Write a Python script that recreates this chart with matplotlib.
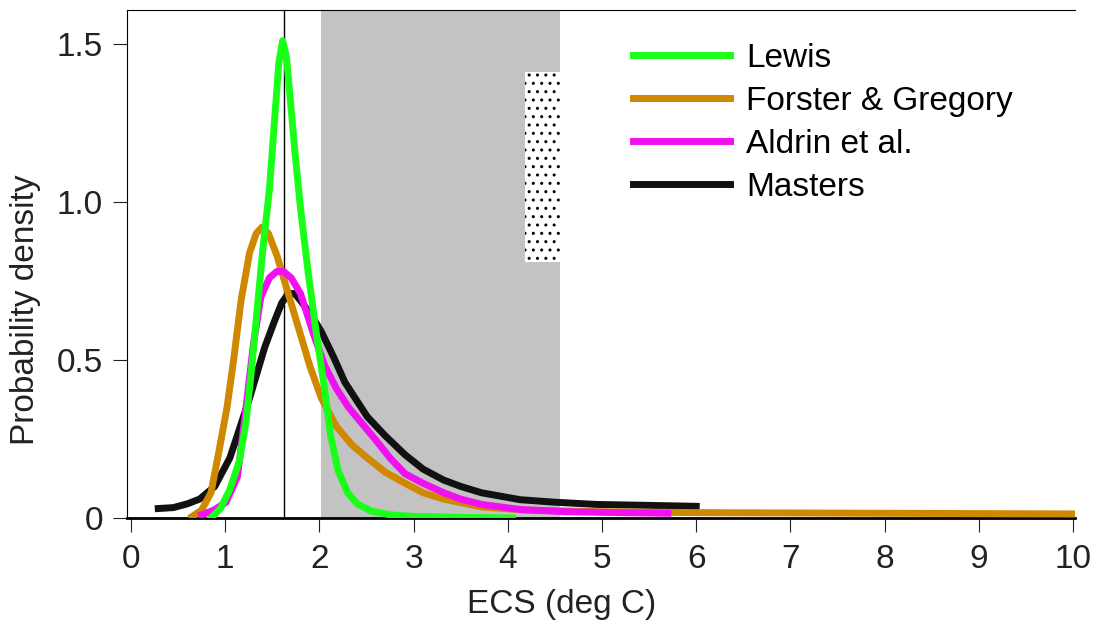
import numpy as np
import matplotlib
matplotlib.use("Agg")
import matplotlib.pyplot as plt
from matplotlib.patches import Rectangle

plt.rcParams['font.family'] = ['Liberation Sans', 'DejaVu Sans']

# Lewis
lewis_x = [0.85, 0.95, 1.05, 1.15, 1.22, 1.28, 1.34, 1.40, 1.47, 1.53, 1.57, 1.61, 1.65, 1.69,
           1.74, 1.80, 1.88, 1.97, 2.05, 2.12, 2.20, 2.30, 2.40, 2.55, 2.75, 3.0, 3.5, 4.05]
lewis_y = [0.0, 0.03, 0.09, 0.18, 0.30, 0.47, 0.66, 0.85, 1.04, 1.28, 1.44, 1.51, 1.46, 1.33,
           1.16, 0.98, 0.78, 0.58, 0.42, 0.26, 0.15, 0.08, 0.045, 0.022, 0.01, 0.005, 0.002, 0.0]

# Forster & Gregory
fg_x = [0.65, 0.75, 0.85, 0.94, 1.02, 1.09, 1.17, 1.26, 1.33, 1.39, 1.46, 1.55, 1.66, 1.78,
        1.90, 2.02, 2.18, 2.35, 2.51, 2.70, 2.91, 3.10, 3.32, 3.72, 4.2, 5.0, 6.0, 8.0, 10.0]
fg_y = [0.005, 0.025, 0.08, 0.22, 0.35, 0.50, 0.69, 0.84, 0.90, 0.92, 0.90, 0.83, 0.72, 0.60,
        0.48, 0.38, 0.29, 0.23, 0.19, 0.145, 0.11, 0.08, 0.06, 0.035, 0.025, 0.02, 0.017, 0.015, 0.013]

# Aldrin et al.
aldrin_x = [0.75, 0.88, 1.01, 1.13, 1.21, 1.30, 1.38, 1.47, 1.55, 1.62, 1.70, 1.80, 1.94, 2.06,
            2.18, 2.31, 2.45, 2.59, 2.75, 2.91, 3.1, 3.32, 3.5, 3.72, 4.13, 4.6, 5.2, 5.7]
aldrin_y = [0.01, 0.025, 0.05, 0.13, 0.32, 0.55, 0.70, 0.76, 0.78, 0.78, 0.76, 0.71, 0.58, 0.48,
            0.41, 0.35, 0.30, 0.25, 0.19, 0.14, 0.11, 0.08, 0.06, 0.043, 0.027, 0.02, 0.017, 0.015]

# Masters
masters_x = [0.29, 0.45, 0.6, 0.73, 0.89, 1.05, 1.15, 1.26, 1.35, 1.42, 1.52, 1.60, 1.67, 1.74,
             1.82, 1.92, 2.02, 2.15, 2.27, 2.4, 2.51, 2.7, 2.91, 3.1, 3.32, 3.5, 3.72, 4.13,
             4.5, 4.94, 5.5, 6.0]
masters_y = [0.03, 0.033, 0.045, 0.06, 0.10, 0.19, 0.28, 0.38, 0.47, 0.54, 0.62, 0.68, 0.71, 0.71,
             0.68, 0.64, 0.59, 0.51, 0.43, 0.37, 0.32, 0.26, 0.20, 0.155, 0.12, 0.10, 0.08, 0.058,
             0.05, 0.043, 0.04, 0.037]

likely_range = (2.02, 4.55)    # grey band
best_est = 1.62                # vertical line
box_x = (4.18, 4.55)
box_y = (0.81, 1.41)

fig = plt.figure(figsize=(10.93, 6.27), dpi=100)
ax = fig.add_axes([0.1159, 0.1738, 0.8676, 0.8102])

ax.axvspan(*likely_range, color='#c3c3c3', lw=0, zorder=0)
ax.add_patch(Rectangle((box_x[0], box_y[0]), box_x[1] - box_x[0], box_y[1] - box_y[0],
                       facecolor='white', edgecolor='black', hatch='..', lw=0, zorder=1))
ax.axvline(best_est, color='black', lw=1, zorder=2)

ax.plot(masters_x, masters_y, color='#111111', lw=5, label='Masters', zorder=3,
        solid_joinstyle='round')
ax.plot(fg_x, fg_y, color='#d08800', lw=5, label='Forster & Gregory', zorder=4,
        solid_joinstyle='round')
ax.plot(aldrin_x, aldrin_y, color='#f010f0', lw=5, label='Aldrin et al.', zorder=5,
        solid_joinstyle='round')
ax.plot(lewis_x, lewis_y, color='#1aff1a', lw=5, label='Lewis', zorder=6,
        solid_joinstyle='round')

h, l = ax.get_legend_handles_labels()
order = [3, 1, 2, 0]
ax.legend([h[i] for i in order], [l[i] for i in order], loc='upper left',
          bbox_to_anchor=(0.534, 0.935), frameon=False, fontsize=24, handlelength=2.9,
          handletextpad=0.5, labelspacing=0.36, borderpad=0, borderaxespad=0)

ax.set_xlim(-0.045, 10.02)
ax.set_ylim(0, 1.607)
ax.set_xticks(range(0, 11))
ax.set_yticks([0, 0.5, 1.0, 1.5])
ax.set_yticklabels(['0', '0.5', '1.0', '1.5'])
ax.tick_params(labelsize=24, direction='out', colors='#222222')
ax.tick_params(axis='x', length=10, pad=9)
ax.tick_params(axis='y', length=10, pad=7)
ax.spines['right'].set_visible(False)
ax.spines['bottom'].set_linewidth(2)
ax.set_xlabel('ECS (deg C)', fontsize=24, color='#222222', va='center')
ax.set_ylabel('Probability density', fontsize=24, color='#222222', va='center')
ax.xaxis.set_label_coords(0.459, -0.17)
ax.yaxis.set_label_coords(-0.107, 0.41)

fig.savefig('out.png', dpi=100)
